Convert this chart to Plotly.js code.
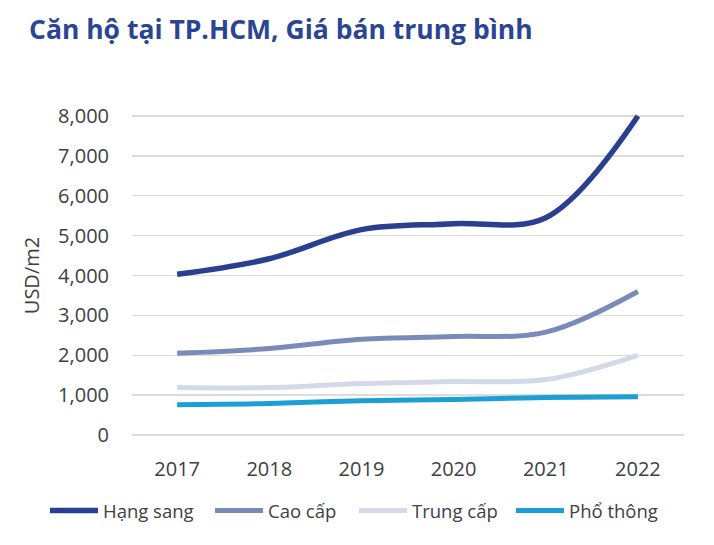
<!DOCTYPE html>
<html>
<head>
<meta charset="utf-8">
<script src="https://cdn.plot.ly/plotly-3.0.1.min.js"></script>
<style>
html,body{margin:0;padding:0;background:#fff;}
#chart{width:714px;height:545px;}
</style>
</head>
<body>
<div id="chart"></div>
<script>
// ---- Data ----
const years = ["2017", "2018", "2019", "2020", "2021", "2022"];
const seriesNames = ["Hạng sang", "Cao cấp", "Trung cấp", "Phổ thông"];
const hangSang = [4030, 4420, 5150, 5300, 5450, 8000];
const caoCap   = [2050, 2170, 2400, 2470, 2580, 3600];
const trungCap = [1190, 1190, 1290, 1340, 1390, 2000];
const phoThong = [760, 790, 860, 890, 940, 960];
const yTicks = [0, 1000, 2000, 3000, 4000, 5000, 6000, 7000, 8000];

const seriesValues = [hangSang, caoCap, trungCap, phoThong];
const colors = ["#2a3f8f", "#7b8bb8", "#d4d9e7", "#1b9fd4"];
const widths = [5.5, 5, 5, 5];
const legendIds = ["legend", "legend2", "legend3", "legend4"];
const legendX = [45, 210, 354, 511];

const traces = seriesValues.map((vals, i) => ({
  type: "scatter",
  mode: "lines",
  name: seriesNames[i],
  x: years,
  y: vals,
  legend: legendIds[i],
  line: { color: colors[i], width: widths[i], shape: "spline", smoothing: 1 },
  hoverinfo: "x+y+name"
}));

const layout = {
  width: 714,
  height: 545,
  paper_bgcolor: "#ffffff",
  plot_bgcolor: "#ffffff",
  margin: { l: 132, r: 30, t: 112, b: 106 },
  font: { family: "Open Sans, sans-serif", color: "#404040", size: 20 },
  title: {
    text: "<b>Căn hộ tại TP.HCM, Giá bán trung bình</b>",
    font: { family: "Open Sans, sans-serif", size: 26.5, color: "#2b4592" },
    x: 29 / 714, xref: "container", xanchor: "left",
    y: 1 - 30 / 545, yref: "container", yanchor: "middle"
  },
  xaxis: {
    type: "category",
    range: [-0.49, 5.5],
    showgrid: false,
    zeroline: false,
    showline: false,
    ticks: "",
    ticklabelstandoff: 16,
    tickfont: { size: 20, color: "#404040" },
    fixedrange: true
  },
  yaxis: {
    range: [-100, 8100],
    tickvals: yTicks,
    tickformat: ",d",
    showgrid: true,
    gridcolor: "#dcdcdc",
    gridwidth: 1.5,
    zeroline: false,
    showline: false,
    ticks: "",
    ticklabelstandoff: 22,
    tickfont: { size: 20, color: "#404040" },
    title: { text: "USD/m2", font: { size: 20, color: "#404040" }, standoff: 13 },
    fixedrange: true
  },
  showlegend: true
};

legendIds.forEach((id, i) => {
  layout[id] = {
    orientation: "h",
    xref: "container",
    x: legendX[i] / 714, xanchor: "left",
    yref: "container",
    y: 1 - 511 / 545, yanchor: "middle",
    font: { size: 18.5, color: "#404040" },
    itemwidth: 48,
    bgcolor: "rgba(0,0,0,0)"
  };
});

Plotly.newPlot("chart", traces, layout, { displayModeBar: false, staticPlot: true });
</script>
</body>
</html>
